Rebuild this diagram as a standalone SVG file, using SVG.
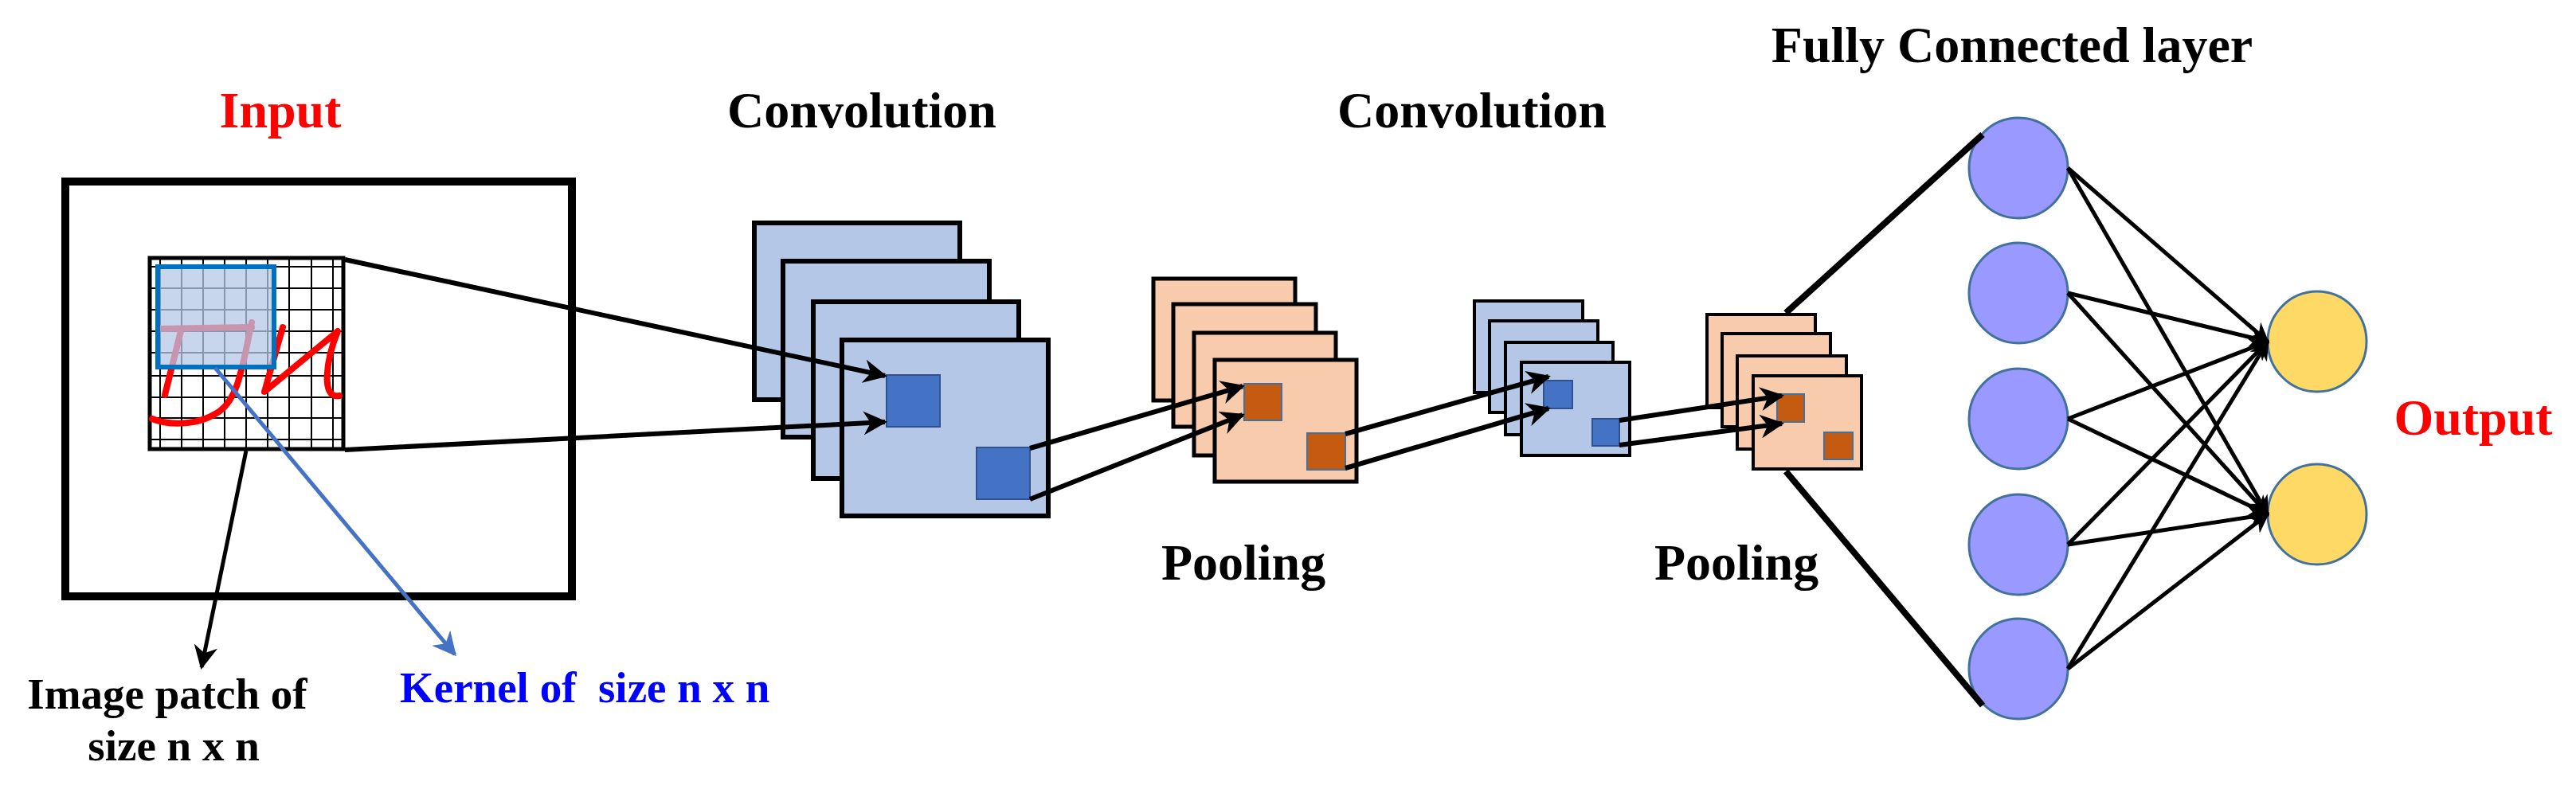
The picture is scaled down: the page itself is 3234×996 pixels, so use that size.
<svg xmlns="http://www.w3.org/2000/svg" width="3234" height="996" viewBox="0 0 3234 996">
<style>
text{font-family:"Liberation Serif","Times New Roman",serif;font-weight:bold;}
.t{font-size:64px;text-anchor:middle;}
.s{font-size:55px;}
.cb{fill:#b4c7e7;stroke:#000;stroke-width:6;}
.cs{fill:#b4c7e7;stroke:#000;stroke-width:4;}
.po{fill:#f8cbad;stroke:#000;stroke-width:5;}
.ps{fill:#f8cbad;stroke:#000;stroke-width:4;}
.bp{fill:#4472c4;stroke:#2f528f;stroke-width:2;}
.op{fill:#c55a11;stroke:#41719c;stroke-width:2;}
.fc{fill:#9999ff;stroke:#41719c;stroke-width:3;}
.out{fill:#ffd966;stroke:#41719c;stroke-width:3;}
.a{stroke:#000;stroke-width:6;fill:none;marker-end:url(#ah);}
.n{stroke:#000;stroke-width:5;fill:none;marker-end:url(#ah);}
.g{stroke:#000;stroke-width:2;}
</style>
<defs>
<marker id="ah" viewBox="0 0 10 10" refX="9" refY="5" markerWidth="5" markerHeight="5" orient="auto"><path d="M0,0 L10,5 L0,10 L3,5 z" fill="#000"/></marker>
<marker id="ahb" viewBox="0 0 10 10" refX="9" refY="5" markerWidth="6" markerHeight="6" orient="auto"><path d="M0,0 L10,5 L0,10 L3,5 z" fill="#4472c4"/></marker>
<marker id="ahk" viewBox="0 0 10 10" refX="9" refY="5" markerWidth="6" markerHeight="6" orient="auto"><path d="M0,0 L10,5 L0,10 L3,5 z" fill="#000"/></marker>
</defs>
<rect width="3234" height="996" fill="#fff"/>

<g id="titles">
<text class="t" x="352" y="160" fill="#ff0000">Input</text>
<text class="t" x="1082" y="160">Convolution</text>
<text class="t" x="1848" y="160">Convolution</text>
<text class="t" x="2526" y="78">Fully Connected layer</text>
<text class="t" x="1561" y="728">Pooling</text>
<text class="t" x="2180" y="728">Pooling</text>
<text class="t" x="3105" y="546" fill="#ff0000">Output</text>
<text class="s" x="210" y="890" text-anchor="middle">Image patch of</text>
<text class="s" x="218" y="955" text-anchor="middle">size n x n</text>
<text class="s" x="502" y="882" fill="#0000ff" xml:space="preserve">Kernel of  size n x n</text>
</g>

<g id="input">
<rect x="82" y="228" width="636" height="521" fill="#fff" stroke="#000" stroke-width="10"/>
<rect x="188" y="324" width="243" height="240" fill="#fff" stroke="#000" stroke-width="5"/>
<g class="g">
<line x1="201" y1="326" x2="201" y2="562"/><line x1="228" y1="326" x2="228" y2="562"/><line x1="255" y1="326" x2="255" y2="562"/><line x1="282" y1="326" x2="282" y2="562"/><line x1="309" y1="326" x2="309" y2="562"/><line x1="336" y1="326" x2="336" y2="562"/><line x1="363" y1="326" x2="363" y2="562"/><line x1="391" y1="326" x2="391" y2="562"/><line x1="418" y1="326" x2="418" y2="562"/>
<line x1="190" y1="335" x2="429" y2="335"/><line x1="190" y1="362" x2="429" y2="362"/><line x1="190" y1="389" x2="429" y2="389"/><line x1="190" y1="416" x2="429" y2="416"/><line x1="190" y1="443" x2="429" y2="443"/><line x1="190" y1="472" x2="429" y2="472"/><line x1="190" y1="499" x2="429" y2="499"/><line x1="190" y1="525" x2="429" y2="525"/><line x1="190" y1="552" x2="429" y2="552"/>
</g>
<g fill="none" stroke="#ff0000" stroke-width="8" stroke-linecap="round" stroke-linejoin="round">
<path d="M201,413 L316,411"/>
<path d="M316,405 C305,455 300,505 270,520 C245,535 210,534 191,526"/>
<path d="M227,416 L207,496"/>
<path d="M355,411 L332,492 L424,416 C410,450 402,502 426,497"/>
</g>
<rect x="198" y="335" width="146" height="126" fill="#b4c7e7" fill-opacity="0.75" stroke="#0070c0" stroke-width="6"/>
</g>

<g id="conv1">
<rect class="cb" x="947" y="280" width="258" height="222"/>
<rect class="cb" x="983" y="328" width="259" height="221"/>
<rect class="cb" x="1021" y="379" width="258" height="222"/>
<rect class="cb" x="1057" y="427" width="259" height="221"/>
<rect class="bp" x="1113" y="471" width="67" height="65"/>
<rect class="bp" x="1226" y="562" width="67" height="65"/>
</g>

<g id="pool1">
<rect class="po" x="1448" y="350" width="178" height="153"/>
<rect class="po" x="1473" y="382" width="179" height="154"/>
<rect class="po" x="1499" y="418" width="178" height="154"/>
<rect class="po" x="1525" y="452" width="178" height="153"/>
<rect class="op" x="1562" y="482" width="47" height="46"/>
<rect class="op" x="1641" y="544" width="48" height="46"/>
</g>

<g id="conv2">
<rect class="cs" x="1851" y="378" width="136" height="115"/>
<rect class="cs" x="1870" y="403" width="136" height="115"/>
<rect class="cs" x="1890" y="430" width="135" height="116"/>
<rect class="cs" x="1910" y="455" width="136" height="117"/>
<rect class="bp" x="1938" y="478" width="36" height="35"/>
<rect class="bp" x="1999" y="526" width="34" height="34"/>
</g>

<g id="pool2">
<rect class="ps" x="2143" y="395" width="136" height="117"/>
<rect class="ps" x="2162" y="419" width="136" height="117"/>
<rect class="ps" x="2181" y="447" width="137" height="117"/>
<rect class="ps" x="2201" y="472" width="136" height="117"/>
<rect class="op" x="2231" y="495" width="34" height="35"/>
<rect class="op" x="2290" y="543" width="36" height="34"/>
</g>

<g id="fc">
<ellipse class="fc" cx="2534" cy="211" rx="62" ry="63"/>
<ellipse class="fc" cx="2534" cy="368" rx="62" ry="63"/>
<ellipse class="fc" cx="2534" cy="526" rx="62" ry="63"/>
<ellipse class="fc" cx="2534" cy="684" rx="62" ry="63"/>
<ellipse class="fc" cx="2534" cy="840" rx="62" ry="63"/>
</g>
<g id="output">
<ellipse class="out" cx="2909" cy="429" rx="62" ry="63"/>
<ellipse class="out" cx="2909" cy="646" rx="62" ry="63"/>
</g>

<g id="connectors">
<line x1="433" y1="326" x2="1111" y2="472" class="a"/>
<line x1="433" y1="565" x2="1111" y2="530" class="a"/>
<line x1="309" y1="566" x2="253" y2="838" stroke="#000" stroke-width="5" marker-end="url(#ahk)"/>
<line x1="270" y1="462" x2="571" y2="822" stroke="#4472c4" stroke-width="5" marker-end="url(#ahb)"/>
<line x1="1293" y1="563" x2="1560" y2="485" class="a"/>
<line x1="1293" y1="627" x2="1560" y2="521" class="a"/>
<line x1="1689" y1="545" x2="1944" y2="473" class="a"/>
<line x1="1689" y1="588" x2="1944" y2="513" class="a"/>
<line x1="2033" y1="528" x2="2237" y2="497" class="a"/>
<line x1="2033" y1="559" x2="2237" y2="532" class="a"/>
<line x1="2242" y1="393" x2="2489" y2="169" stroke="#000" stroke-width="8"/>
<line x1="2242" y1="592" x2="2489" y2="886" stroke="#000" stroke-width="8"/>
<line x1="2596" y1="211" x2="2847" y2="429" class="n"/>
<line x1="2596" y1="211" x2="2847" y2="646" class="n"/>
<line x1="2596" y1="368" x2="2847" y2="429" class="n"/>
<line x1="2596" y1="368" x2="2847" y2="646" class="n"/>
<line x1="2596" y1="526" x2="2847" y2="429" class="n"/>
<line x1="2596" y1="526" x2="2847" y2="646" class="n"/>
<line x1="2596" y1="684" x2="2847" y2="429" class="n"/>
<line x1="2596" y1="684" x2="2847" y2="646" class="n"/>
<line x1="2596" y1="840" x2="2847" y2="429" class="n"/>
<line x1="2596" y1="840" x2="2847" y2="646" class="n"/>
</g>
</svg>
